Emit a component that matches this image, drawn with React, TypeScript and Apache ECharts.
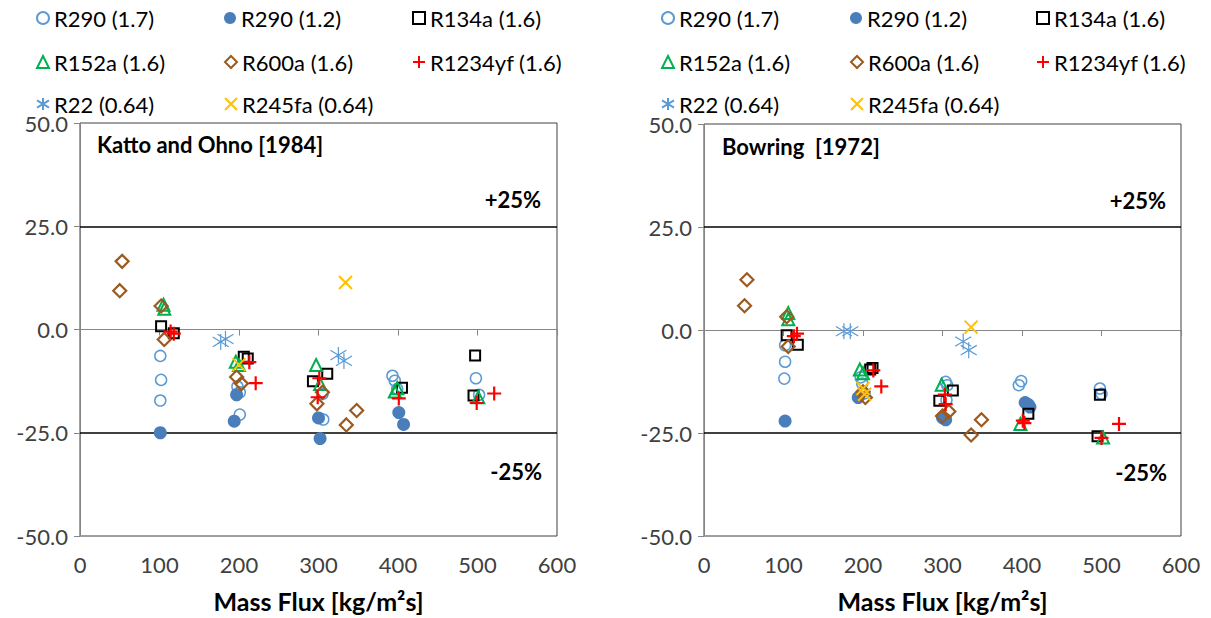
import { useEffect, useRef } from "react";
import * as echarts from "echarts";

type Pt = [number, number];

const seriesNames = [
  "R290 (1.7)",
  "R290 (1.2)",
  "R134a (1.6)",
  "R152a (1.6)",
  "R600a (1.6)",
  "R1234yf (1.6)",
  "R22 (0.64)",
  "R245fa (0.64)",
];

const xTicks = { min: 0, max: 600, step: 100 };
const yTicks = { min: -50, max: 50, step: 25 };
const bandLimits = [25, -25];

// Katto and Ohno [1984] — deviation (%) vs mass flux
const kattoR290Hi: Pt[] = [
  [101, -6.4], [102, -12.2], [101, -17.2],
  [198, -13.8], [201, -15.2], [201, -20.6],
  [305, -15.6], [306, -21.8],
  [393, -11.2], [396, -12.4], [399, -14.4],
  [498, -11.8], [502, -15.8],
];
const kattoR290Lo: Pt[] = [
  [101, -25.0], [194, -22.2], [197, -15.8], [300, -21.4], [302, -26.4], [401, -20.1], [407, -23.0],
];
const kattoR134a: Pt[] = [
  [102, 0.8], [118, -0.9], [206, -6.6], [211, -7.0], [293, -12.5], [311, -10.7], [405, -14.1], [497, -6.3], [495, -16.0],
];
const kattoR152a: Pt[] = [
  [105, 6.0], [106, 5.0], [196, -7.8], [200, -8.6], [297, -8.6], [302, -13.2], [396, -15.0], [399, -14.2], [501, -16.4],
];
const kattoR600a: Pt[] = [
  [53, 16.5], [50, 9.4], [102, 5.7], [106, -2.4], [197, -11.5], [203, -13.1], [298, -18.0], [305, -15.2], [335, -23.1], [348, -19.6],
];
const kattoR1234yf: Pt[] = [
  [114, -0.5], [118, -1.0], [213, -7.9], [221, -13.0], [301, -11.8], [299, -16.4], [401, -16.7], [499, -17.8], [521, -15.5],
];
const kattoR22: Pt[] = [[177, -3.0], [183, -2.3], [325, -6.2], [332, -7.6]];
const kattoR245fa: Pt[] = [[200, -8.5], [334, 11.4]];

// Bowring [1972] — deviation (%) vs mass flux
const bowringR290Hi: Pt[] = [
  [102, -3.7], [102, -7.7], [101, -11.8],
  [197, -11.5], [199, -13.0], [202, -15.4],
  [304, -12.6], [306, -13.4], [305, -17.0], [303, -21.5],
  [396, -13.4], [399, -12.4],
  [498, -14.2], [500, -15.5],
];
const bowringR290Lo: Pt[] = [
  [102, -22.1], [194, -16.4], [300, -21.3], [304, -21.8], [404, -17.6], [408, -18.1], [410, -18.7],
];
const bowringR134a: Pt[] = [
  [104, -1.3], [118, -3.6], [209, -9.6], [212, -9.2], [296, -17.2], [313, -14.7], [408, -20.3], [498, -15.7], [495, -25.8],
];
const bowringR152a: Pt[] = [
  [106, 4.1], [106, 2.6], [196, -9.6], [200, -10.5], [299, -13.3], [398, -22.8], [502, -26.1],
];
const bowringR600a: Pt[] = [
  [54, 12.2], [51, 5.9], [104, 3.2], [106, -4.0], [200, -15.0], [203, -16.4], [300, -20.9], [308, -19.8], [336, -25.5], [349, -21.8],
];
const bowringR1234yf: Pt[] = [
  [113, -1.5], [117, -0.9], [213, -9.8], [223, -13.7], [303, -15.7], [304, -18.0], [401, -22.0], [403, -22.6], [500, -26.2], [522, -22.8],
];
const bowringR22: Pt[] = [[176, -0.3], [184, -0.3], [326, -2.8], [333, -4.9]];
const bowringR245fa: Pt[] = [[200, -14.2], [202, -15.6], [336, 0.7]];

const kattoSets = [kattoR290Hi, kattoR290Lo, kattoR134a, kattoR152a, kattoR600a, kattoR1234yf, kattoR22, kattoR245fa];
const bowringSets = [bowringR290Hi, bowringR290Lo, bowringR134a, bowringR152a, bowringR600a, bowringR1234yf, bowringR22, bowringR245fa];

const PLUS = "path://M0,10L20,10M10,0L10,20";
const CROSS = "path://M0,0L20,20M20,0L0,20";
const STAR = "path://M10,0L10,20M0,4L20,16M0,16L20,4";

const markers = [
  { symbol: "circle", size: 11, fill: "transparent", stroke: "#5b9bd5", width: 1.5, keep: true },
  { symbol: "circle", size: 13, fill: "#4a7ebb", stroke: "#4a7ebb", width: 0, keep: true },
  { symbol: "rect", size: 10, fill: "transparent", stroke: "#000000", width: 2, keep: true },
  { symbol: "triangle", size: 12, fill: "transparent", stroke: "#00b050", width: 2, keep: true },
  { symbol: "diamond", size: 13, fill: "transparent", stroke: "#9c5a1e", width: 2.2, keep: true },
  { symbol: PLUS, size: 14, fill: "transparent", stroke: "#ff0000", width: 2.2, keep: true },
  { symbol: STAR, size: 16, fill: "transparent", stroke: "#5b9bd5", width: 1.2, keep: false },
  { symbol: CROSS, size: 13, fill: "transparent", stroke: "#ffc000", width: 2, keep: true },
];

const FONT = "Lato, 'Open Sans', sans-serif";

const grids = [
  { left: 80, top: 123, width: 477, height: 415 },
  { left: 704, top: 124, width: 477, height: 416 },
];

// legend icon centres per column, and row centres
const legendCols = [
  [42, 230, 418],
  [667, 856, 1042],
];
const legendRows = [18, 62, 104];

function buildSeries(gridIdx: number, sets: Pt[][]) {
  return sets.map((data, i) => {
    const m = markers[i];
    const s: any = {
      name: seriesNames[i],
      type: "scatter",
      xAxisIndex: gridIdx,
      yAxisIndex: gridIdx,
      data,
      symbol: m.symbol,
      symbolSize: m.size,
      symbolKeepAspect: m.keep,
      itemStyle: { color: m.fill, borderColor: m.stroke, borderWidth: m.width, opacity: 1 },
      emphasis: { disabled: true },
      z: 3 + i,
    };
    if (i === 0) {
      s.markLine = {
        silent: true,
        symbol: "none",
        label: { show: false },
        lineStyle: { color: "#000", width: 1.5, type: "solid" },
        data: bandLimits.map((v) => ({ yAxis: v })),
        z: 2,
      };
    }
    return s;
  });
}

function buildLegends() {
  const legends: any[] = [];
  for (let g = 0; g < 2; g++) {
    seriesNames.forEach((name, i) => {
      const col = i % 3;
      const row = Math.floor(i / 3);
      legends.push({
        data: [name],
        left: legendCols[g][col] - 6,
        top: legendRows[row] - 13,
        padding: 0,
        itemWidth: 12,
        itemHeight: 12,
        itemGap: 0,
        selectedMode: false,
        textStyle: { fontFamily: FONT, fontSize: 22, color: "#000", lineHeight: 26 },
      });
    });
  }
  return legends;
}

function axisPair(gridIdx: number) {
  const x = {
    type: "value",
    gridIndex: gridIdx,
    min: xTicks.min,
    max: xTicks.max,
    interval: xTicks.step,
    name: "Mass Flux [kg/m²s]",
    nameLocation: "middle",
    nameGap: 52,
    nameTextStyle: { fontFamily: FONT, fontSize: 25, fontWeight: "bold", color: "#000" },
    axisLine: { show: true, lineStyle: { color: "#868686", width: 1 } },
    axisTick: { show: true, inside: false, length: 6, lineStyle: { color: "#868686" } },
    axisLabel: { fontFamily: FONT, fontSize: 22, color: "#404040", margin: 17 },
    splitLine: { show: false },
  };
  const y = {
    type: "value",
    gridIndex: gridIdx,
    min: yTicks.min,
    max: yTicks.max,
    interval: yTicks.step,
    axisLine: { show: true, lineStyle: { color: "#868686", width: 1 } },
    axisTick: { show: true, inside: false, length: 6, lineStyle: { color: "#868686" } },
    axisLabel: {
      fontFamily: FONT,
      fontSize: 22,
      color: "#404040",
      margin: 12,
      formatter: (v: number) => v.toFixed(1),
    },
    splitLine: { show: false },
  };
  return { x, y };
}

function textEl(text: string, pos: any, size = 22) {
  return {
    type: "text",
    ...pos,
    z: 50,
    style: {
      text,
      font: `bold ${size}px ${FONT}`,
      fill: "#000",
    },
  };
}

export default function App() {
  const ref = useRef<HTMLDivElement>(null);

  useEffect(() => {
    if (!ref.current) return;
    const chart = echarts.init(ref.current, undefined, { renderer: "svg" });
    const a0 = axisPair(0);
    const a1 = axisPair(1);
    chart.setOption({
      animation: false,
      backgroundColor: "#ffffff",
      grid: grids.map((g) => ({ ...g, show: true, borderColor: "#404040", borderWidth: 1, backgroundColor: "transparent" })),
      xAxis: [a0.x, a1.x],
      yAxis: [a0.y, a1.y],
      legend: buildLegends(),
      series: [...buildSeries(0, kattoSets), ...buildSeries(1, bowringSets)],
      graphic: [
        textEl("Katto and Ohno [1984]", { left: 97, top: 133 }),
        textEl("+25%", { right: 1211 - 541, top: 188 }),
        textEl("-25%", { right: 1211 - 542, top: 460 }),
        textEl("Bowring  [1972]", { left: 722, top: 135 }),
        textEl("+25%", { right: 1211 - 1166, top: 189 }),
        textEl("-25%", { right: 1211 - 1167, top: 461 }),
      ],
    });
    return () => chart.dispose();
  }, []);

  return (
    <div
      ref={ref}
      style={{ position: "fixed", left: 0, top: 0, width: 1211, height: 618, background: "#fff" }}
    />
  );
}
